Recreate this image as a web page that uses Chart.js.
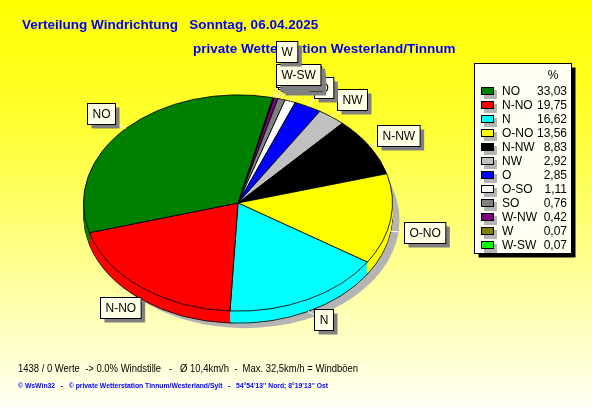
<!DOCTYPE html>
<html>
<head>
<meta charset="utf-8">
<script src="https://cdn.jsdelivr.net/npm/chart.js@4.4.1/dist/chart.umd.min.js"></script>
<style>
  html, body { margin: 0; padding: 0; background: #ffffff; }
  canvas { display: block; }
</style>
</head>
<body>
<canvas id="wind_chart" width="592" height="407"></canvas>
<script>
// Windrichtung, sortiert wie in der Legende
const directions = ["NO", "N-NO", "N", "O-NO", "N-NW", "NW", "O", "O-SO", "SO", "W-NW", "W", "W-SW"];
const percents = [33.03, 19.75, 16.62, 13.56, 8.83, 2.92, 2.85, 1.11, 0.76, 0.42, 0.07, 0.07];
const colors = ["#008000", "#ff0000", "#00ffff", "#ffff00", "#000000", "#c0c0c0",
                "#0000ff", "#ffffff", "#808080", "#800080", "#808000", "#00ff00"];

const title1 = "Verteilung Windrichtung   Sonntag, 06.04.2025";
const title2 = "private Wetterstation Westerland/Tinnum";
const infoLine = "1438 / 0 Werte  -> 0.0% Windstille   -   Ø 10,4km/h  -  Max. 32,5km/h = Windböen";
const copyLine = "© WsWin32   -   © private Wetterstation Tinnum/Westerland/Sylt   -   54°54'13'' Nord; 8°19'13'' Ost";

const SQ = 0.70;     // ellipse squash
const DEPTH = 12;    // 3d height
const FONT = '"Liberation Sans", Arial, sans-serif';

function fmt(v) {
  return v.toFixed(2).replace(".", ",");
}

const bgPlugin = {
  id: "bg",
  beforeDraw(chart) {
    const ctx = chart.ctx;
    const g = ctx.createLinearGradient(0, 0, 0, chart.height);
    g.addColorStop(0, "#ffff00");
    g.addColorStop(0.3, "#ffff30");
    g.addColorStop(1, "#fffff4");
    ctx.save();
    ctx.fillStyle = g;
    ctx.fillRect(0, 0, chart.width, chart.height);

    // titles (liegen unter den Beschriftungen)
    ctx.fillStyle = "#0000ff";
    ctx.font = "bold 13.5px " + FONT;
    ctx.textBaseline = "alphabetic";
    ctx.fillText(title1, 22, 29);
    ctx.fillText(title2, 193, 53);
    ctx.restore();
  },
};

const pie3d = {
  id: "pie3d",
  beforeDatasetsDraw(chart) {
    const ctx = chart.ctx;
    const meta = chart.getDatasetMeta(0);
    const a = meta.data[0];
    const cx = a.x, cy = a.y, r = a.outerRadius;

    ctx.save();
    ctx.fillStyle = "#b4b4b4";
    ctx.beginPath();
    ctx.ellipse(cx + 7, cy + DEPTH + 5, r, r * SQ, 0, 0, Math.PI * 2);
    ctx.fill();
    ctx.restore();

    for (let d = DEPTH; d >= 1; d--) {
      ctx.save();
      ctx.translate(cx, cy + d);
      ctx.scale(1, SQ);
      ctx.translate(-cx, -cy);
      meta.data.forEach((el) => {
        const o = el.options;
        if (d !== DEPTH) el.options = Object.assign({}, o, { borderWidth: 0 });
        el.draw(ctx);
        el.options = o;
      });
      ctx.restore();
    }

    ctx.save();
    ctx.translate(cx, cy);
    ctx.scale(1, SQ);
    ctx.translate(-cx, -cy);
  },
  afterDatasetsDraw(chart) {
    const ctx = chart.ctx;
    ctx.restore();

    const meta = chart.getDatasetMeta(0);
    const names = chart.data.labels;
    const vals = chart.data.datasets[0].data;
    const a0 = meta.data[0];
    const cx = a0.x, cy = a0.y, r = a0.outerRadius;

    ctx.font = "12px " + FONT;
    let items = meta.data.map((el, i) => {
      const ang = (el.startAngle + el.endAngle) / 2;
      const c = Math.cos(ang), s = Math.sin(ang);
      const down = s > 0 ? DEPTH : 0;
      const w = Math.max(ctx.measureText(names[i]).width + 10, 19);
      const h = 21;
      return {
        name: names[i], value: vals[i], idx: i,
        ex: cx + r * c, ey: cy + r * SQ * s + down,
        x: cx + r * 1.22 * c - w / 2,
        y: cy + r * SQ * 1.2 * s - h / 2 + (s > 0 ? DEPTH * (1 - s) : 0),
        w: w, h: h,
      };
    });
    // groesste zuerst
    items.sort((a, b) => b.value - a.value || a.idx - b.idx);
    const placed = [];
    items.forEach((it) => {
      let moved = true;
      let guard = 0;
      while (moved && guard < 200) {
        moved = false;
        for (const p of placed) {
          const ox = it.x < p.x + p.w + 4 && it.x + it.w + 4 > p.x;
          const oy = it.y < p.y + p.h && it.y + it.h > p.y;
          if (ox && oy && it.y + it.h - p.y > 2 && it.y > p.y - 2) {
            it.y = p.y - 2;
            it.x = Math.max(it.x, p.x - 2);
            moved = true;
          }
        }
        guard++;
      }
      placed.push(it);
    });
    // die letzte (oberste) Marke ganz frei stellen
    const last = placed[placed.length - 1];
    const prev = placed[placed.length - 2];
    if (last.y > prev.y - last.h - 2 && Math.abs(last.x - prev.x) < prev.w) {
      last.y = prev.y - last.h - 2;
    }

    // leader lines
    ctx.save();
    ctx.strokeStyle = "#ffffff";
    ctx.lineWidth = 1;
    placed.forEach((it) => {
      ctx.beginPath();
      ctx.moveTo(it.ex, it.ey);
      ctx.lineTo(it.x + it.w / 2, it.y + it.h / 2);
      ctx.stroke();
    });
    ctx.restore();

    ctx.save();
    ctx.font = "12px " + FONT;
    ctx.textAlign = "center";
    ctx.textBaseline = "middle";
    placed.forEach((it) => {
      const x = Math.round(it.x) + 0.5, y = Math.round(it.y) + 0.5;
      ctx.fillStyle = "#808080";
      ctx.fillRect(x + 4, y + 4, it.w, it.h);
      ctx.fillStyle = "#ffffe6";
      ctx.fillRect(x, y, it.w, it.h);
      ctx.strokeStyle = "#000000";
      ctx.strokeRect(x, y, it.w, it.h);
      ctx.fillStyle = "#000000";
      ctx.fillText(it.name, x + it.w / 2, y + it.h / 2 + 1);
    });
    ctx.restore();
  },
  afterDraw(chart) {
    const ctx = chart.ctx;
    ctx.save();
    // legend
    const lx = 474.5, ly = 63.5, lw = 97, lh = 190;
    ctx.fillStyle = "#000000";
    ctx.fillRect(lx + 4, ly + 4, lw, lh);
    ctx.fillStyle = "#fffff4";
    ctx.fillRect(lx, ly, lw, lh);
    ctx.strokeStyle = "#000000";
    ctx.strokeRect(lx, ly, lw, lh);
    ctx.font = "12px " + FONT;
    ctx.fillStyle = "#000000";
    ctx.textAlign = "center";
    ctx.textBaseline = "middle";
    ctx.fillText("%", 553, 76);
    directions.forEach((d, i) => {
      const y = 91 + i * 14;
      ctx.fillStyle = "#b4b4b4";
      ctx.fillRect(484, y - 1, 13, 9);
      ctx.fillStyle = colors[i];
      ctx.fillRect(481, y - 4, 13, 8);
      ctx.strokeStyle = "#000000";
      ctx.strokeRect(481.5, y - 3.5, 12, 7);
      ctx.fillStyle = "#000000";
      ctx.textAlign = "left";
      ctx.fillText(d, 502, y + 1);
      ctx.textAlign = "right";
      ctx.fillText(fmt(percents[i]), 567, y + 1);
    });

    // footer
    ctx.textAlign = "left";
    ctx.textBaseline = "alphabetic";
    ctx.fillStyle = "#000000";
    ctx.font = "11px " + FONT;
    ctx.fillText(infoLine, 18, 372, 340);
    ctx.fillStyle = "#0000ff";
    ctx.font = "bold 8px " + FONT;
    ctx.fillText(copyLine, 18, 388, 310);
    ctx.restore();
  },
};

const pie_chart = document.getElementById("wind_chart");
const windChart = new Chart(pie_chart, {
  type: "pie",
  data: {
    labels: directions.slice().reverse(),
    datasets: [
      {
        data: percents.slice().reverse(),
        backgroundColor: colors.slice().reverse(),
        borderColor: "#000000",
        borderWidth: 1,
      },
    ],
  },
  options: {
    responsive: false,
    animation: false,
    rotation: 13,
    layout: { padding: { left: 83, right: 199, top: 48, bottom: 49 } },
    plugins: {
      legend: { display: false },
      tooltip: { enabled: false },
    },
  },
  plugins: [bgPlugin, pie3d],
});
</script>
</body>
</html>
